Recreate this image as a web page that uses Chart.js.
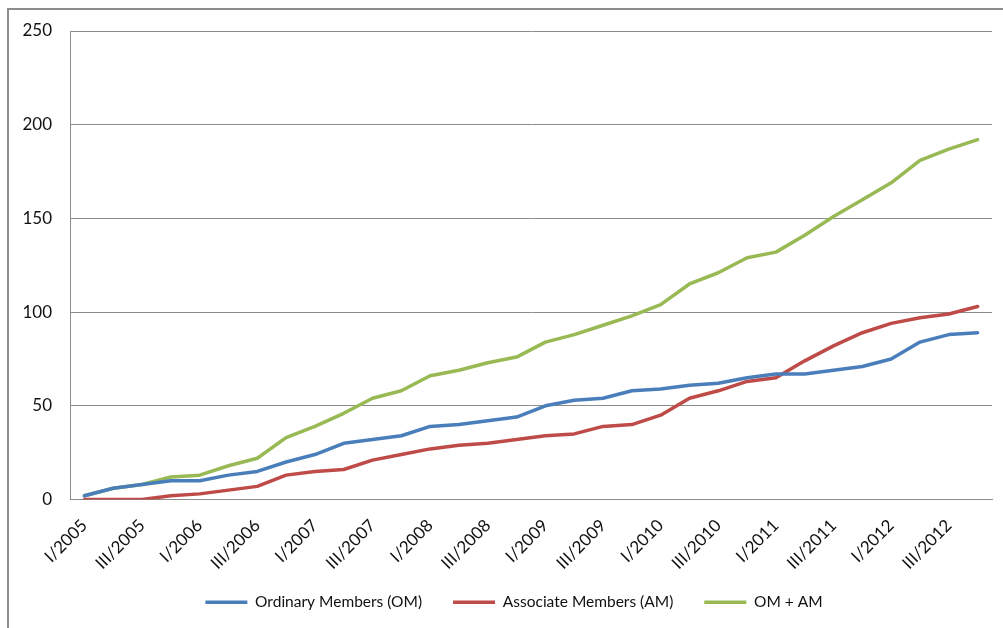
<!DOCTYPE html>
<html>
<head>
<meta charset="utf-8">
<script src="https://cdn.jsdelivr.net/npm/chart.js@4"></script>
<style>
  html, body { margin: 0; padding: 0; background: #fff; overflow: hidden; }
  #frame { position: absolute; left: 7px; top: 8px; width: 2000px; height: 2000px;
           border-top: 2px solid #8c8c8c; border-left: 2px solid #8c8c8c; }
  #wrap { position: absolute; left: 0; top: 0; width: 1003px; height: 628px; }
</style>
</head>
<body>
<div id="frame"></div>
<div id="wrap"><canvas id="chart1"></canvas></div>
<script>
// quarters 2005 - 2012
var quarters = [
  "I/2005", "II/2005", "III/2005", "IV/2005",
  "I/2006", "II/2006", "III/2006", "IV/2006",
  "I/2007", "II/2007", "III/2007", "IV/2007",
  "I/2008", "II/2008", "III/2008", "IV/2008",
  "I/2009", "II/2009", "III/2009", "IV/2009",
  "I/2010", "II/2010", "III/2010", "IV/2010",
  "I/2011", "II/2011", "III/2011", "IV/2011",
  "I/2012", "II/2012", "III/2012", "IV/2012"
];

var ordinaryMembers = [2, 6, 8, 10, 10, 13, 15, 20, 24, 30, 32, 34, 39, 40, 42, 44,
                       50, 53, 54, 58, 59, 61, 62, 65, 67, 67, 69, 71, 75, 84, 88, 89];
var associateMembers = [0, 0, 0, 2, 3, 5, 7, 13, 15, 16, 21, 24, 27, 29, 30, 32,
                        34, 35, 39, 40, 45, 54, 58, 63, 65, 74, 82, 89, 94, 97, 99, 103];
var totalMembers = [2, 6, 8, 12, 13, 18, 22, 33, 39, 46, 54, 58, 66, 69, 73, 76,
                    84, 88, 93, 98, 104, 115, 121, 129, 132, 141, 151, 160, 169, 181, 187, 192];

var yTicks = [0, 50, 100, 150, 200, 250];

var txt = "#111";
var gridCol = "#8c8c8c";

function line(label, data, color) {
  return {
    label: label,
    data: data,
    borderColor: color,
    backgroundColor: color,
    borderWidth: 3.5,
    pointRadius: 0,
    pointHoverRadius: 0,
    tension: 0,
    borderJoinStyle: "round",
    borderCapStyle: "round",
    fill: false
  };
}

// give the rotated x labels room below the axis and nudge the legend right
var tweakLayout = {
  id: "tweakLayout",
  afterLayout: function (chart) {
    var x = chart.scales.x;
    x.bottom += 20;
    x.height += 20;
    chart.legend.left += 18;
    chart.legend.right += 18;
  }
};

var ctx = document.getElementById("chart1");
var myChart = new Chart(ctx, {
  type: "line",
  data: {
    labels: quarters,
    datasets: [
      line("Ordinary Members (OM)", ordinaryMembers, "#4A7EBB"),
      line("Associate Members (AM)", associateMembers, "#BE4B48"),
      line("OM + AM", totalMembers, "#98B954")
    ]
  },
  plugins: [tweakLayout],
  options: {
    responsive: true,
    maintainAspectRatio: false,
    animation: false,
    layout: { padding: { left: 0, top: 31, right: 11, bottom: 8 } },
    plugins: {
      tooltip: { enabled: false },
      legend: {
        position: "bottom",
        labels: {
          usePointStyle: true,
          pointStyle: "line",
          pointStyleWidth: 42,
          padding: 31,
          color: txt,
          font: { family: "Lato", size: 15.5 }
        }
      }
    },
    scales: {
      x: {
        offset: true,
        grid: { display: false, drawTicks: false },
        border: { display: true, color: gridCol, width: 1 },
        ticks: {
          autoSkip: true,
          maxTicksLimit: 16,
          minRotation: 45,
          maxRotation: 45,
          padding: 16,
          color: txt,
          font: { family: "Lato", size: 17 }
        },
        afterFit: function (s) { s.height = 64; }
      },
      y: {
        min: 0,
        max: 250,
        afterBuildTicks: function (s) { s.ticks = yTicks.map(function (v) { return { value: v }; }); },
        grid: { color: gridCol, lineWidth: 1, drawTicks: false },
        border: { display: true, color: gridCol, width: 1 },
        ticks: {
          padding: 18,
          color: txt,
          font: { family: "Lato", size: 17 }
        },
        afterFit: function (s) { s.width = 70; }
      }
    }
  }
});
</script>
</body>
</html>
